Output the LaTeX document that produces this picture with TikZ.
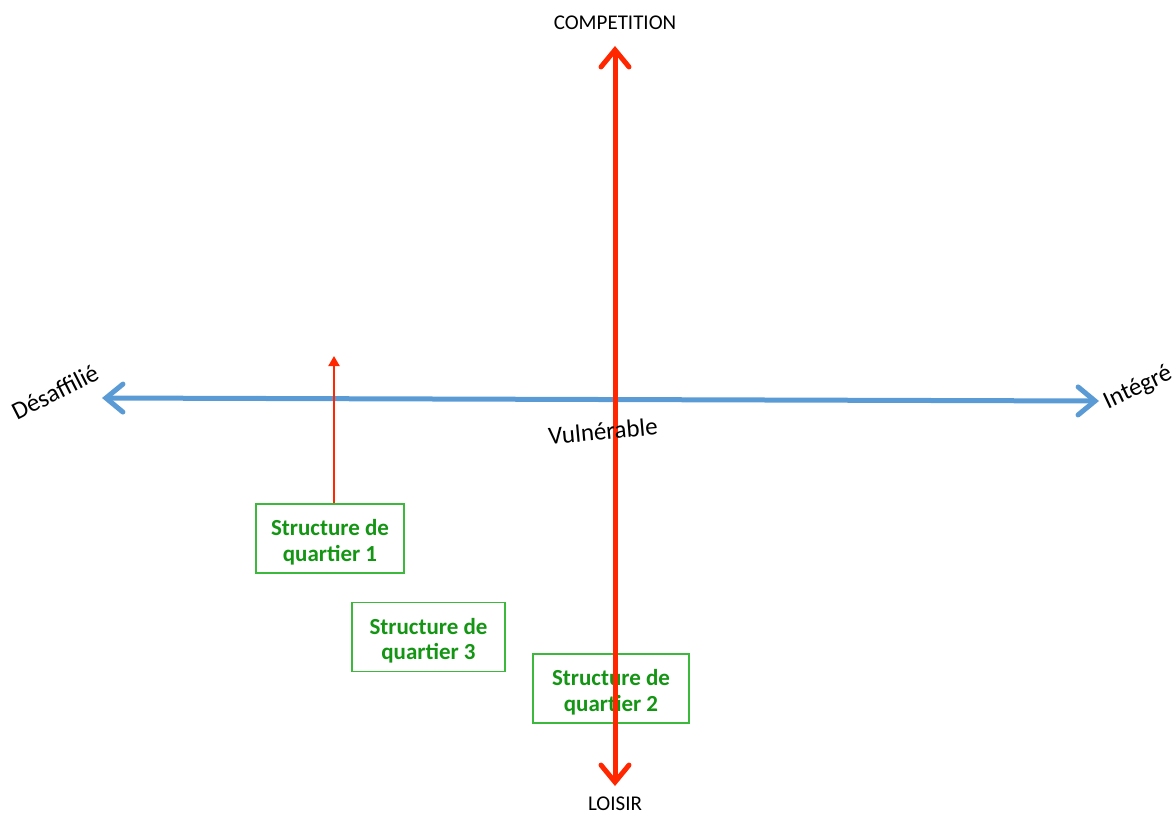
\documentclass[tikz,border=0pt]{standalone}
\usepackage{fontspec}
\setmainfont{Carlito}
\usetikzlibrary{arrows.meta}
\definecolor{axred}{RGB}{255,38,0}
\definecolor{axblue}{RGB}{91,155,213}
\definecolor{boxgreen}{RGB}{60,185,60}
\definecolor{txtgreen}{RGB}{20,150,20}
\tikzset{barbtip/.tip={Straight Barb[length=17pt,width=28pt,line width=5pt,line cap=round]}}
\begin{document}
\begin{tikzpicture}[x=1pt,y=-1pt,
  qbox/.style={draw=boxgreen,line width=1.2pt,fill=white,minimum width=#1,minimum height=69pt,
     text=txtgreen,font=\fontsize{23}{25.5}\selectfont\bfseries,align=center,inner sep=0pt},
  axlabel/.style={font=\fontsize{21}{24}\selectfont,text=black},
  rotlabel/.style={font=\fontsize{25}{28}\selectfont,text=black},
  axis/.style={line width=5pt,barbtip-barbtip}]
\useasboundingbox (0,0) rectangle (1175,814);
% boxes
\node[qbox=148pt] (q1) at (330,538.5) {\rule{0pt}{24pt}Structure de\\quartier 1};
\node[qbox=153pt] (q3) at (428.5,637) {\rule{0pt}{24pt}Structure de\\quartier 3};
\node[qbox=156pt] (q2) at (611,688.5) {\rule{0pt}{24pt}Structure de\\quartier 2};
% axes endpoints
\coordinate (L) at (102,398);
\coordinate (R) at (1099,401);
\coordinate (T) at (615,46);
\coordinate (B) at (615,786);
\draw[axblue,axis] (L) -- (R);
\draw[axred,axis] (T) -- (B);
% small arrow
\coordinate (s) at (334,356);
\draw[axred,line width=2pt,-{Triangle[length=10pt,width=11pt]}] (q1.north -| s) -- (s);
% labels
\node[axlabel] (comp) at (615,23) {COMPETITION};
\node[axlabel] (lois) at (615,804) {LOISIR};
\node[rotlabel,rotate=27] (des) at (55,392) {Désaffilié};
\node[rotlabel,rotate=25] (int) at (1138,388) {Intégré};
\node[rotlabel,rotate=5] (vul) at (603,431) {Vulnérable};
\end{tikzpicture}
\end{document}
